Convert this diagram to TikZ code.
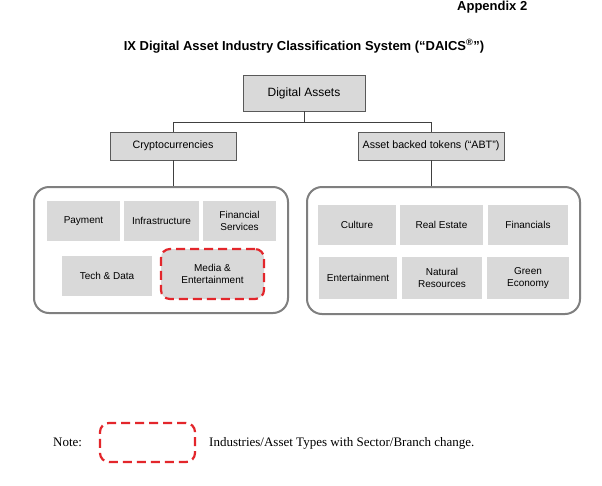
\documentclass[tikz,border=0pt]{standalone}
\usepackage{fontspec}
\setmainfont{Liberation Serif}
\newfontfamily\arial{Liberation Sans}
\definecolor{boxgray}{HTML}{D9D9D9}
\definecolor{topedge}{HTML}{595959}
\definecolor{bigedge}{HTML}{7F7F7F}
\definecolor{connc}{HTML}{404040}
\definecolor{redd}{HTML}{E3262B}
\begin{document}
\begin{tikzpicture}[x=1pt,y=-1pt,
  topbox/.style={draw=topedge,line width=0.9pt,fill=boxgray,inner sep=0pt,align=center,font=\arial\fontsize{10.7}{12}\selectfont},
  bigbox/.style={draw=bigedge,line width=2pt,rounded corners=15pt,inner sep=0pt},
  inbox/.style={fill=boxgray,inner sep=0pt,align=center,minimum height=40,font=\arial\fontsize{10}{12}\selectfont},
  chg/.style={draw=redd,line width=2.2pt,dash pattern=on 9pt off 5pt,rounded corners=9pt},
  conn/.style={draw=connc,line width=0.9pt}]
\useasboundingbox[fill=white] (0,0) rectangle (602,485);
% headings
\node[anchor=base west,inner sep=0pt,font=\arial\bfseries\fontsize{13}{15}\selectfont] (app) at (457,10.5) {Appendix 2};
\node[anchor=base,inner sep=0pt,font=\arial\bfseries\fontsize{13}{15}\selectfont] (title) at (304,50) {IX Digital Asset Industry Classification System (“DAICS\textsuperscript{\textregistered}”)};
% top level
\node[topbox,minimum width=122,minimum height=36,font=\arial\fontsize{12}{14}\selectfont] (da) at (304,93) {Digital Assets};
\node[topbox,minimum width=126,minimum height=28] (crypto) at (173,146) {Cryptocurrencies};
\node[topbox,minimum width=146,minimum height=28] (abt) at (431,146) {Asset backed tokens (“ABT”)};
% big boxes
\node[bigbox,minimum width=254,minimum height=126] (bigL) at (161,250) {};
\node[bigbox,minimum width=273,minimum height=127] (bigR) at (443.5,250.5) {};
% connectors
\coordinate (j) at (304,122);
\draw[conn] (da.south) -- (j);
\draw[conn] (j) -| (crypto.north);
\draw[conn] (j) -| (abt.north);
\draw[conn] (crypto.south) -- (crypto.south |- bigL.north);
\draw[conn] (abt.south) -- (abt.south |- bigR.north);
% left inner
\node[inbox,minimum width=73] (pay) at (83.5,221) {Payment};
\node[inbox,minimum width=75] (infra) at (161.5,221) {Infrastructure};
\node[inbox,minimum width=73] (fin) at (239.5,221) {Financial\\Services};
\node[inbox,minimum width=90] (tech) at (107,276) {Tech \& Data};
\node[inbox,chg,minimum width=103,minimum height=50] (media) at (212.5,274) {Media \&\\Entertainment};
% right inner
\node[inbox,minimum width=78] (cult) at (357,225) {Culture};
\node[inbox,minimum width=83] (re) at (441.5,225) {Real Estate};
\node[inbox,minimum width=80] (finl) at (528,225) {Financials};
\node[inbox,minimum width=78,minimum height=42] (ent) at (358,278) {Entertainment};
\node[inbox,minimum width=80,minimum height=42] (nat) at (442,278) {Natural\\Resources};
\node[inbox,minimum width=82,minimum height=42] (green) at (528,278) {Green\\Economy};
% note
\node[anchor=base west,inner sep=0pt,font=\fontsize{13}{15}\selectfont] (note) at (53,446) {Note:};
\node[chg,minimum width=95,minimum height=39,inner sep=0pt] (legend) at (147.5,442.5) {};
\node[anchor=base west,inner sep=0pt,font=\fontsize{13}{15}\selectfont] (legtext) at (209,446) {Industries/Asset Types with Sector/Branch change.};
\end{tikzpicture}
\end{document}
